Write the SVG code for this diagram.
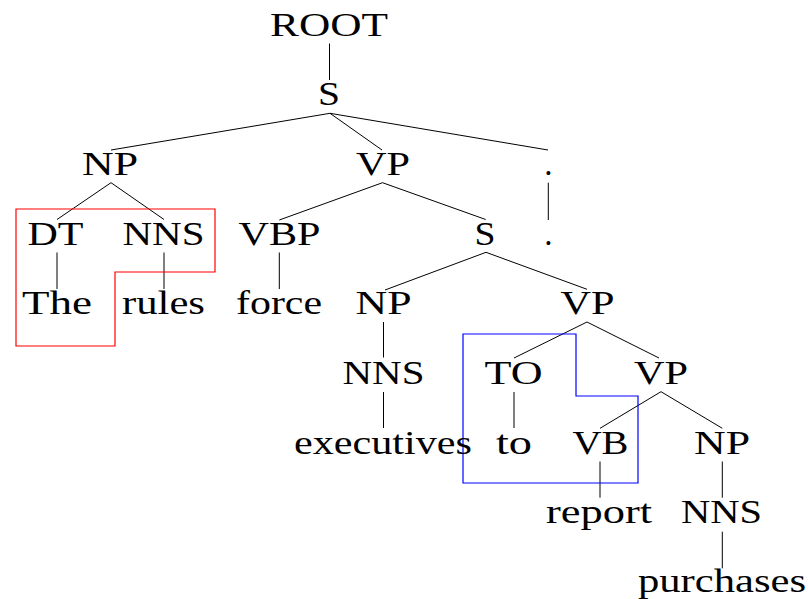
<svg xmlns="http://www.w3.org/2000/svg" width="808" height="599" viewBox="0 0 808 599">
  <style>
    .lbl { font-family: "Liberation Serif", "Times New Roman", serif; font-size: 33px; fill: #000; text-anchor: middle; }
    .edge { stroke: #000; stroke-width: 1; fill: none; }
    .hl-red { stroke: #ff0000; stroke-width: 1.2; fill: none; }
    .hl-blue { stroke: #0000ff; stroke-width: 1.2; fill: none; }
  </style>
  <rect width="808" height="599" fill="#fff"/>

  <!-- tree edges -->
  <g id="edges">
    <line class="edge" x1="329.5" y1="43.5" x2="329.5" y2="80"/>
    <line class="edge" x1="330" y1="113.3" x2="111" y2="150"/>
    <line class="edge" x1="330" y1="113.3" x2="382" y2="150"/>
    <line class="edge" x1="330" y1="113.3" x2="548" y2="150"/>
    <line class="edge" x1="111" y1="182.7" x2="57" y2="219.5"/>
    <line class="edge" x1="111" y1="182.7" x2="164" y2="219.5"/>
    <line class="edge" x1="382.5" y1="182.7" x2="279.3" y2="220"/>
    <line class="edge" x1="382.5" y1="182.7" x2="485.7" y2="219.5"/>
    <line class="edge" x1="548.3" y1="182.7" x2="548.3" y2="220"/>
    <line class="edge" x1="57" y1="252.5" x2="57" y2="289"/>
    <line class="edge" x1="164" y1="252.5" x2="164" y2="289"/>
    <line class="edge" x1="279.3" y1="252.5" x2="279.3" y2="289"/>
    <line class="edge" x1="486" y1="252.3" x2="385" y2="290"/>
    <line class="edge" x1="486" y1="252.3" x2="587" y2="289.3"/>
    <line class="edge" x1="383.5" y1="322" x2="383.5" y2="357.5"/>
    <line class="edge" x1="587" y1="322" x2="514" y2="358"/>
    <line class="edge" x1="587" y1="322" x2="659" y2="358"/>
    <line class="edge" x1="383.5" y1="392" x2="383.5" y2="428"/>
    <line class="edge" x1="514" y1="392" x2="514" y2="428"/>
    <line class="edge" x1="661" y1="391.7" x2="600" y2="428.3"/>
    <line class="edge" x1="661" y1="391.7" x2="722.3" y2="428.3"/>
    <line class="edge" x1="600" y1="461.5" x2="600" y2="497.7"/>
    <line class="edge" x1="722.3" y1="461.5" x2="722.3" y2="497.7"/>
    <line class="edge" x1="722.3" y1="531.7" x2="722.3" y2="568.3"/>
  </g>

  <!-- highlighted constituents -->
  <g id="highlight-np">
    <polygon class="hl-red" points="16,209 215,209 215,272 115,272 115,346 16,346"/>
  </g>
  <g id="highlight-vp">
    <polygon class="hl-blue" points="463,334 576,334 576,396 638,396 638,483 463,483"/>
  </g>

  <!-- nodes -->
  <g id="n-root"><text class="lbl" x="329" y="36" textLength="118" lengthAdjust="spacingAndGlyphs">ROOT</text></g>
  <g id="n-s"><text class="lbl" x="329" y="105" textLength="22" lengthAdjust="spacingAndGlyphs">S</text></g>

  <g id="n-np"><text class="lbl" x="110" y="175" textLength="56" lengthAdjust="spacingAndGlyphs">NP</text></g>
  <g id="n-vp"><text class="lbl" x="383" y="175" textLength="54" lengthAdjust="spacingAndGlyphs">VP</text></g>
  <g id="n-punct"><text class="lbl" x="548.3" y="175">.</text></g>

  <g id="n-dt"><text class="lbl" x="55.5" y="245" textLength="56" lengthAdjust="spacingAndGlyphs">DT</text></g>
  <g id="n-nns1"><text class="lbl" x="163.5" y="245" textLength="82" lengthAdjust="spacingAndGlyphs">NNS</text></g>
  <g id="n-vbp"><text class="lbl" x="279.5" y="245" textLength="82" lengthAdjust="spacingAndGlyphs">VBP</text></g>
  <g id="n-s2"><text class="lbl" x="485" y="245" textLength="21" lengthAdjust="spacingAndGlyphs">S</text></g>
  <g id="n-period"><text class="lbl" x="548.3" y="245">.</text></g>

  <g id="w-the"><text class="lbl" x="57" y="314" textLength="70" lengthAdjust="spacingAndGlyphs">The</text></g>
  <g id="w-rules"><text class="lbl" x="163.5" y="314" textLength="83" lengthAdjust="spacingAndGlyphs">rules</text></g>
  <g id="w-force"><text class="lbl" x="279" y="314" textLength="86" lengthAdjust="spacingAndGlyphs">force</text></g>
  <g id="n-np2"><text class="lbl" x="383.5" y="314" textLength="56" lengthAdjust="spacingAndGlyphs">NP</text></g>
  <g id="n-vp2"><text class="lbl" x="587.5" y="314" textLength="54" lengthAdjust="spacingAndGlyphs">VP</text></g>

  <g id="n-nns2"><text class="lbl" x="383.5" y="384" textLength="82" lengthAdjust="spacingAndGlyphs">NNS</text></g>
  <g id="n-to"><text class="lbl" x="513.5" y="384" textLength="58" lengthAdjust="spacingAndGlyphs">TO</text></g>
  <g id="n-vp3"><text class="lbl" x="661" y="384" textLength="54" lengthAdjust="spacingAndGlyphs">VP</text></g>

  <g id="w-executives"><text class="lbl" x="383" y="454" textLength="178" lengthAdjust="spacingAndGlyphs">executives</text></g>
  <g id="w-to"><text class="lbl" x="514" y="454" textLength="36" lengthAdjust="spacingAndGlyphs">to</text></g>
  <g id="n-vb"><text class="lbl" x="600.5" y="454" textLength="56" lengthAdjust="spacingAndGlyphs">VB</text></g>
  <g id="n-np3"><text class="lbl" x="722" y="454" textLength="56" lengthAdjust="spacingAndGlyphs">NP</text></g>

  <g id="w-report"><text class="lbl" x="599" y="523" textLength="106" lengthAdjust="spacingAndGlyphs">report</text></g>
  <g id="n-nns3"><text class="lbl" x="721.5" y="523" textLength="81" lengthAdjust="spacingAndGlyphs">NNS</text></g>

  <g id="w-purchases"><text class="lbl" x="722" y="592" textLength="168" lengthAdjust="spacingAndGlyphs">purchases</text></g>
</svg>
